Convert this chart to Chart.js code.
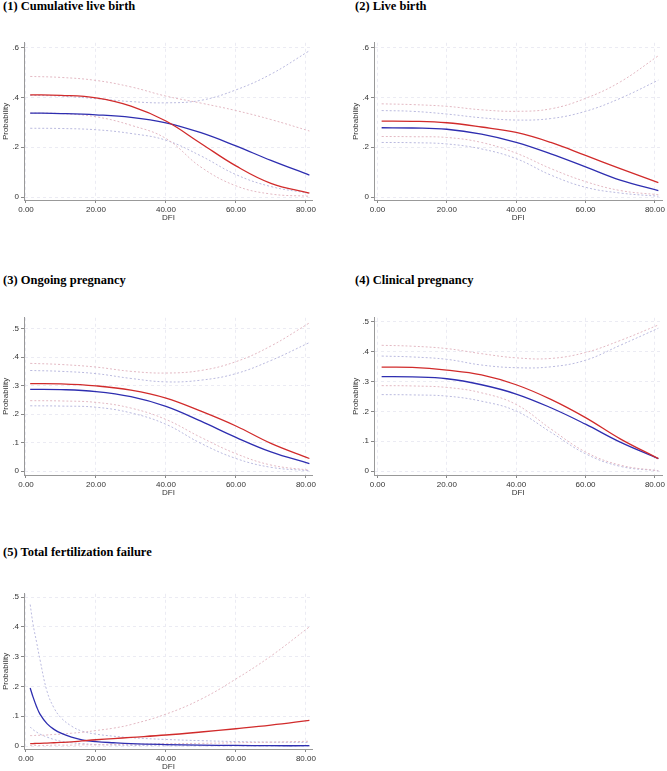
<!DOCTYPE html>
<html>
<head>
<meta charset="utf-8">
<title>DFI and outcome probability</title>
<script src="https://cdn.jsdelivr.net/npm/chart.js@4.4.1/dist/chart.umd.min.js"></script>
<style>
  html, body { margin: 0; padding: 0; background: #fff; overflow: hidden; }
  body { width: 667px; height: 771px; position: relative; }
  .title {
    position: absolute;
    font: bold 12.5px "Liberation Serif", "Times New Roman", serif;
    line-height: 12.5px;
    color: #000;
    white-space: nowrap;
  }
  canvas { position: absolute; }
</style>
</head>
<body>

<div class="title" style="left:3px;top:0px">(1) Cumulative live birth</div>
<div class="title" style="left:355px;top:0px">(2) Live birth</div>
<div class="title" style="left:3px;top:274px">(3) Ongoing pregnancy</div>
<div class="title" style="left:355px;top:274px">(4) Clinical pregnancy</div>
<div class="title" style="left:3px;top:546px">(5) Total fertilization failure</div>

<canvas id="c1" width="318" height="187" style="left:0px;top:36px"></canvas>
<canvas id="c2" width="317" height="187" style="left:350px;top:36px"></canvas>
<canvas id="c3" width="318" height="187" style="left:0px;top:311px"></canvas>
<canvas id="c4" width="317" height="187" style="left:350px;top:311px"></canvas>
<canvas id="c5" width="318" height="185" style="left:0px;top:587px"></canvas>

<script>
// tick labels
const xTicks = [0, 20, 40, 60, 80];
const yTicks6 = [0, 0.2, 0.4, 0.6];
const yTicks5 = [0, 0.1, 0.2, 0.3, 0.4, 0.5];

// DFI values where the curves were read (panels 1-4)
const dfi = [1.2, 10, 20, 30, 40, 50, 60, 70, 81];

// (1) Cumulative live birth
const cumRed    = [0.410, 0.408, 0.398, 0.365, 0.305, 0.215, 0.125, 0.055, 0.016];
const cumBlue   = [0.337, 0.335, 0.330, 0.320, 0.298, 0.258, 0.205, 0.147, 0.088];
const cumRedUp  = [0.484, 0.480, 0.468, 0.442, 0.405, 0.377, 0.347, 0.311, 0.265];
const cumRedLo  = [0.337, 0.335, 0.322, 0.288, 0.235, 0.120, 0.045, 0.012, 0.003];
const cumBlueUp = [0.408, 0.405, 0.395, 0.383, 0.378, 0.388, 0.430, 0.493, 0.587];
const cumBlueLo = [0.276, 0.275, 0.270, 0.255, 0.228, 0.165, 0.090, 0.042, 0.015];

// (2) Live birth
const lbRed    = [0.305, 0.304, 0.298, 0.281, 0.259, 0.219, 0.167, 0.114, 0.058];
const lbBlue   = [0.278, 0.277, 0.272, 0.252, 0.219, 0.173, 0.121, 0.068, 0.026];
const lbRedUp  = [0.374, 0.371, 0.364, 0.350, 0.344, 0.354, 0.396, 0.462, 0.567];
const lbRedLo  = [0.243, 0.242, 0.239, 0.219, 0.176, 0.114, 0.062, 0.026, 0.009];
const lbBlueUp = [0.347, 0.344, 0.333, 0.318, 0.309, 0.315, 0.344, 0.396, 0.469];
const lbBlueLo = [0.219, 0.218, 0.213, 0.193, 0.154, 0.088, 0.039, 0.016, 0.003];

// (3) Ongoing pregnancy
const opRed    = [0.307, 0.306, 0.299, 0.284, 0.256, 0.210, 0.158, 0.097, 0.044];
const opBlue   = [0.287, 0.286, 0.279, 0.261, 0.227, 0.175, 0.118, 0.067, 0.026];
const opRedUp  = [0.378, 0.374, 0.365, 0.350, 0.344, 0.353, 0.384, 0.439, 0.520];
const opRedLo  = [0.247, 0.246, 0.241, 0.221, 0.181, 0.118, 0.061, 0.021, 0.003];
const opBlueUp = [0.353, 0.350, 0.342, 0.325, 0.313, 0.319, 0.342, 0.388, 0.451];
const opBlueLo = [0.229, 0.228, 0.224, 0.204, 0.164, 0.097, 0.044, 0.013, 0.001];

// (4) Clinical pregnancy
const cpRed    = [0.348, 0.347, 0.338, 0.322, 0.289, 0.240, 0.179, 0.108, 0.042];
const cpBlue   = [0.316, 0.315, 0.309, 0.289, 0.258, 0.212, 0.157, 0.097, 0.042];
const cpRedUp  = [0.421, 0.418, 0.410, 0.393, 0.379, 0.377, 0.397, 0.437, 0.489];
const cpRedLo  = [0.286, 0.285, 0.280, 0.262, 0.223, 0.141, 0.064, 0.020, 0.001];
const cpBlueUp = [0.385, 0.382, 0.374, 0.355, 0.346, 0.349, 0.371, 0.421, 0.478];
const cpBlueLo = [0.256, 0.255, 0.251, 0.234, 0.201, 0.130, 0.058, 0.016, 0.001];

// (5) Total fertilization failure - denser at the left where it drops fast
const tffDfi    = [1.2, 2, 3, 4, 6, 8, 10, 13, 16, 20, 25, 30, 40, 50, 60, 70, 81];
const tffRed    = [0.008, 0.008, 0.009, 0.009, 0.010, 0.011, 0.012, 0.014, 0.017, 0.021, 0.025, 0.029, 0.037, 0.047, 0.058, 0.070, 0.086];
const tffBlue   = [0.195, 0.165, 0.133, 0.107, 0.075, 0.056, 0.043, 0.030, 0.021, 0.015, 0.011, 0.008, 0.005, 0.003, 0.002, 0.001, 0.001];
const tffRedUp  = [0.035, 0.035, 0.036, 0.036, 0.037, 0.039, 0.040, 0.043, 0.046, 0.052, 0.060, 0.072, 0.107, 0.157, 0.225, 0.302, 0.400];
const tffRedLo  = [0.002, 0.002, 0.002, 0.002, 0.002, 0.003, 0.003, 0.003, 0.004, 0.004, 0.005, 0.006, 0.008, 0.009, 0.011, 0.013, 0.016];
const tffBlueUp = [0.475, 0.410, 0.350, 0.290, 0.184, 0.128, 0.095, 0.067, 0.050, 0.040, 0.033, 0.028, 0.022, 0.018, 0.015, 0.013, 0.012];
const tffBlueLo = [0.064, 0.055, 0.047, 0.040, 0.030, 0.022, 0.016, 0.011, 0.008, 0.005, 0.003, 0.002, 0.001, 0.001, 0.0005, 0.0005, 0.0005];

const RED = '#d12b2b';
const BLUE = '#2e2eb0';
const RED_CI = '#e3b9c3';
const BLUE_CI = '#babadf';
const tickFont = { family: '"Liberation Sans", Arial, sans-serif', size: 8 };

function pts(xs, ys) {
  return xs.map((x, i) => ({ x: x, y: ys[i] }));
}

function line(xs, ys, color, ci) {
  return {
    data: pts(xs, ys),
    borderColor: color,
    borderWidth: ci ? 1 : 1.3,
    borderDash: ci ? [2, 2] : [],
    pointRadius: 0,
    fill: false,
    tension: 0.4
  };
}

function makePanel(id, xs, s, yTicks, yMin, yMax, xMin, xMax) {
  // first dataset is drawn on top, so solids go first
  const datasets = [
    line(xs, s[0], RED, false),
    line(xs, s[1], BLUE, false),
    line(xs, s[2], RED_CI, true),
    line(xs, s[3], RED_CI, true),
    line(xs, s[4], BLUE_CI, true),
    line(xs, s[5], BLUE_CI, true)
  ];
  new Chart(document.getElementById(id), {
    type: 'line',
    data: { datasets: datasets },
    options: {
      responsive: false,
      animation: false,
      layout: { padding: { top: 4, right: 4, left: 0, bottom: 0 } },
      plugins: { legend: { display: false }, tooltip: { enabled: false } },
      scales: {
        x: {
          type: 'linear',
          min: xMin,
          max: xMax,
          afterBuildTicks: sc => { sc.ticks = xTicks.map(v => ({ value: v })); },
          afterFit: sc => { sc.height = 23; },
          ticks: { callback: v => v.toFixed(2), font: tickFont, color: '#333', padding: 2, maxRotation: 0 },
          grid: { color: '#ebebf3', tickLength: 3, tickColor: '#888', tickBorderDash: [] },
          border: { color: '#999', dash: [3, 3] },
          title: { display: true, text: 'DFI', font: tickFont, color: '#333', padding: 0 }
        },
        y: {
          min: yMin,
          max: yMax,
          afterBuildTicks: sc => { sc.ticks = yTicks.map(v => ({ value: v })); },
          afterFit: sc => { sc.width = 24; },
          ticks: {
            callback: v => v === 0 ? '0' : v.toFixed(1).replace(/^0/, ''),
            font: tickFont, color: '#333', padding: 2
          },
          grid: { color: '#ebebf3', tickLength: 3, tickColor: '#888', tickBorderDash: [] },
          border: { color: '#999', dash: [3, 3] },
          title: { display: true, text: 'Probability', font: tickFont, color: '#333', padding: { top: 1, bottom: 0 } }
        }
      }
    }
  });
}

makePanel('c1', dfi, [cumRed, cumBlue, cumRedUp, cumRedLo, cumBlueUp, cumBlueLo], yTicks6, -0.012, 0.619, -0.57, 82.0);
makePanel('c2', dfi, [lbRed, lbBlue, lbRedUp, lbRedLo, lbBlueUp, lbBlueLo], yTicks6, -0.012, 0.619, -1.0, 82.1);
makePanel('c3', dfi, [opRed, opBlue, opRedUp, opRedLo, opBlueUp, opBlueLo], yTicks5, -0.014, 0.538, -0.57, 82.0);
makePanel('c4', dfi, [cpRed, cpBlue, cpRedUp, cpRedLo, cpBlueUp, cpBlueLo], yTicks5, -0.013, 0.513, -1.0, 82.1);
makePanel('c5', tffDfi, [tffRed, tffBlue, tffRedUp, tffRedLo, tffBlueUp, tffBlueLo], yTicks5, -0.010, 0.511, -0.57, 82.0);
</script>
</body>
</html>
